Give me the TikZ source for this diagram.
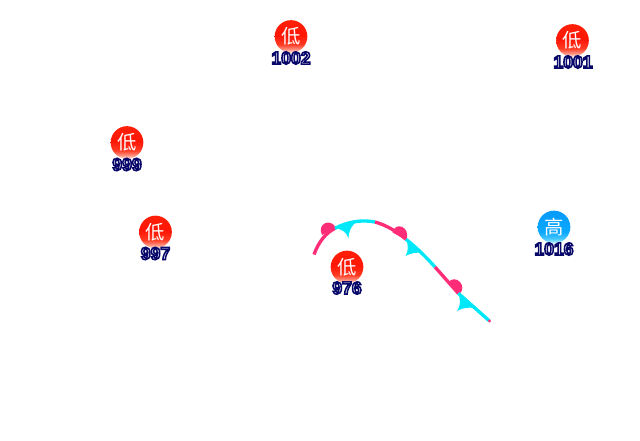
\documentclass[tikz,border=0pt]{standalone}
\usepackage{fontspec}
\setmainfont{Liberation Sans}
\newfontfamily\cjkfont{Noto Sans CJK SC}
\usetikzlibrary{calc}
\definecolor{frontpink}{HTML}{FF2D78}
\definecolor{frontcyan}{HTML}{00E8F8}
\definecolor{lowa}{HTML}{FFD0C4}
\definecolor{lowb}{HTML}{FF8A78}
\definecolor{lowc}{HTML}{FF3A22}
\definecolor{lowd}{HTML}{FF1606}
\definecolor{lowe}{HTML}{FF2A08}
\definecolor{higha}{HTML}{B0ECFF}
\definecolor{highb}{HTML}{48C8FF}
\definecolor{highc}{HTML}{0CA8FF}
\definecolor{highd}{HTML}{0090F4}
\pgfdeclareverticalshading{lowshade}{100bp}{color(0bp)=(lowa);color(27bp)=(lowa);color(31bp)=(lowb);color(38bp)=(lowc);color(52bp)=(lowd);color(100bp)=(lowe)}
\pgfdeclareverticalshading{highshade}{100bp}{color(0bp)=(higha);color(27bp)=(higha);color(32bp)=(highb);color(42bp)=(highc);color(100bp)=(highd)}
\newcommand{\haloed}[1]{\special{pdf:code q 2 Tr 1.15 w 0.03 0.03 0.42 RG 1 1 1 rg}#1\special{pdf:code Q}}
\tikzset{
  x=0.75pt,y=-0.75pt,
  centerbase/.style={circle,minimum size=24.5pt,inner sep=0pt,text=white,font=\cjkfont\fontsize{14.5}{14.5}\selectfont},
  lowcentre/.style={centerbase,shading=lowshade},
  highcentre/.style={centerbase,shading=highshade},
  pressure/.style={inner sep=0pt,font=\bfseries\fontsize{13.2}{13.2}\selectfont},
  front/.style={line width=2.5pt,line cap=butt},
  warm/.style={front,draw=frontpink},
  cold/.style={front,draw=frontcyan},
  bump/.style={fill=frontpink,draw=none},
  barb/.style={fill=frontcyan,draw=none},
}
\begin{document}
\begin{tikzpicture}
\useasboundingbox (0,0) rectangle (640,440);
\fill[white] (0,0) rectangle (640,440);
% pressure centres
\node[lowcentre] (l1) at (291,36.5) {低};
\node[pressure] (p1) at (291,58) {\haloed{1002}};
\node[lowcentre] (l2) at (572.5,40.5) {低};
\node[pressure] (p2) at (573,62) {\haloed{1001}};
\node[lowcentre] (l3) at (127,142.5) {低};
\node[pressure] (p3) at (127,164.5) {\haloed{999}};
\node[lowcentre] (l4) at (155.5,232) {低};
\node[pressure] (p4) at (155.5,253.5) {\haloed{997}};
\node[lowcentre] (l5) at (347,267) {低};
\node[pressure] (p5) at (347,288) {\haloed{976}};
\node[highcentre] (h1) at (554,227) {高};
\node[pressure] (p6) at (554,249) {\haloed{1016}};
% occluded front: warm bumps
\fill[bump] (322,235) .. controls (316.5,223.5) and (331,217.5) .. (336,228) -- cycle;
\fill[bump] (392.5,232.5) .. controls (395,221) and (411,226.5) .. (406.3,240) -- cycle;
\fill[bump] (448,282.5) .. controls (456,273) and (468,286.5) .. (459.3,294.3) -- cycle;
% occluded front: cold barbs
\fill[barb] (334.5,227.5) .. controls (342,229.5) and (346.5,232) .. (348.5,238) .. controls (349,230) and (351.5,226) .. (357,221) -- cycle;
\fill[barb] (406,238) .. controls (408.5,246) and (408.5,251) .. (405.5,256) .. controls (411,253) and (416,252) .. (423.5,253) -- cycle;
\fill[barb] (458,292) .. controls (461,300) and (460.5,306) .. (457,311) .. controls (462,308) and (468,307) .. (475,308) -- cycle;
% occluded front: line segments
\draw[warm] (314,254.5) .. controls (319,241) and (326,233) .. (335,228.3);
\draw[cold] (335,228.3) .. controls (348,221.5) and (362,219.5) .. (375,222);
\draw[warm] (375,222) .. controls (386,225) and (397,231.5) .. (406,239.3);
\draw[cold] (406,239.3) .. controls (417,248) and (426,257) .. (435,267);
\draw[warm] (435,267) -- (458.3,293.3);
\draw[cold] (458.3,293.3) -- (489.3,320.8);
\fill[frontpink] (489.5,321) circle (1.7);
\end{tikzpicture}
\end{document}
